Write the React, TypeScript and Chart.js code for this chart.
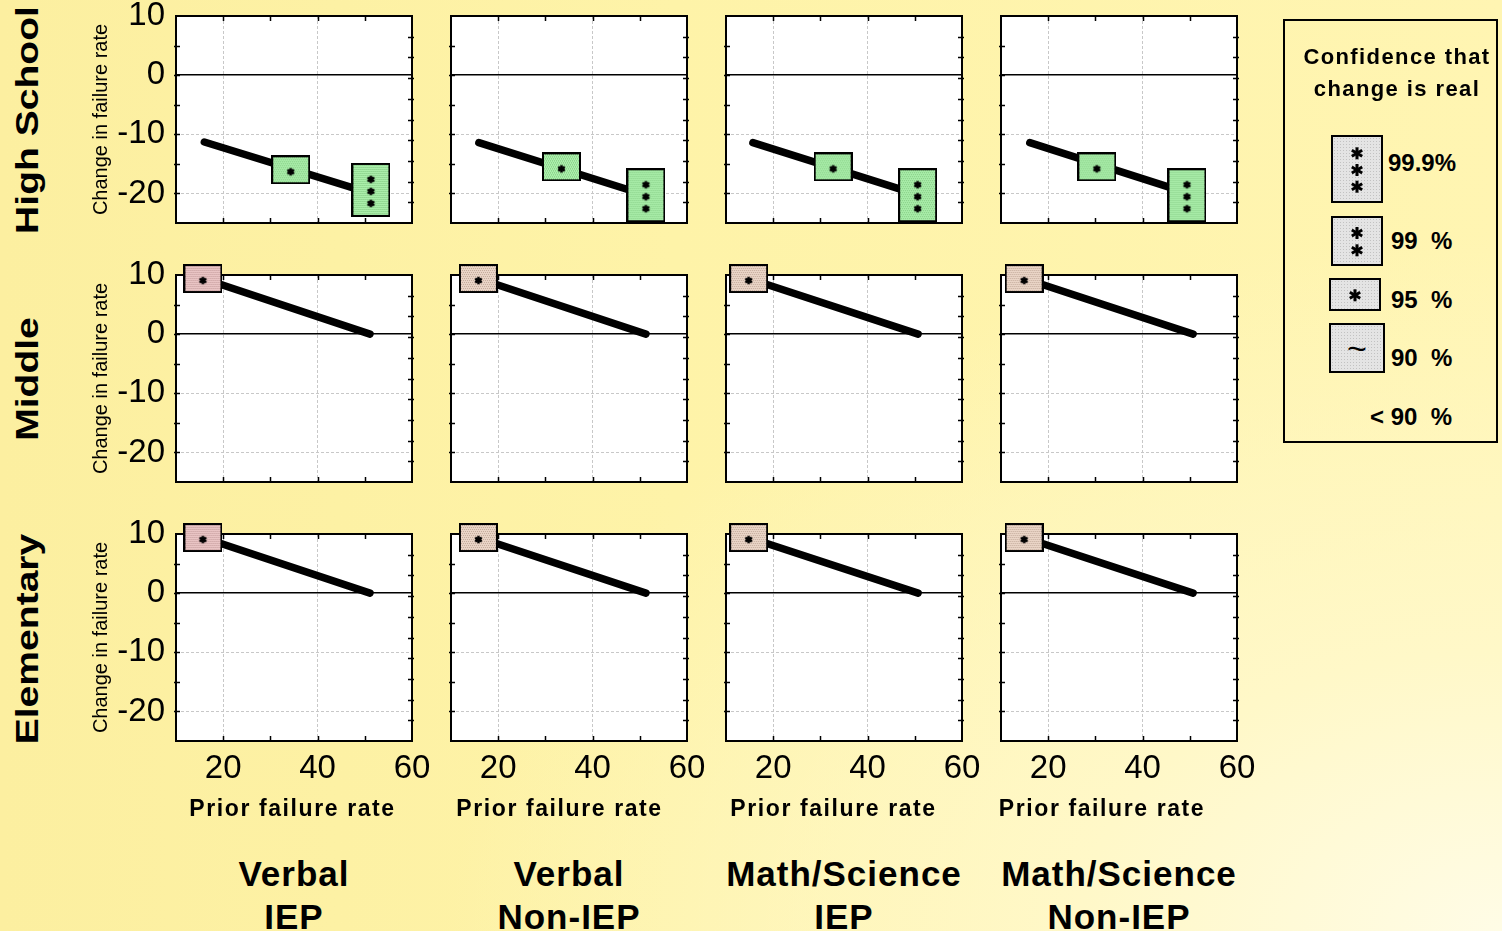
import React, { useEffect, useRef } from 'react';
import { Chart, registerables } from 'chart.js';

Chart.register(...registerables);

// ---------------- data ----------------
const ROW_LABELS = ['High School', 'Middle', 'Elementary'];
const COL_LABELS_TOP = ['Verbal', 'Verbal', 'Math/Science', 'Math/Science'];
const COL_LABELS_BOTTOM = ['IEP', 'Non-IEP', 'IEP', 'Non-IEP'];
const X_AXIS_TITLE = 'Prior failure rate';
const Y_AXIS_TITLE = 'Change in failure rate';
const LEGEND_TITLE = ['Confidence that', 'change is real'];
const LEGEND_LEVELS = ['99.9%', '99  %', '95  %', '90  %', '< 90  %'];

const X_MIN = 10;
const X_MAX = 60;
const Y_MIN = -25;
const Y_MAX = 10;
const X_TICKS = [20, 40, 60];
const Y_TICKS = [-20, -10, 0, 10];
const X_MINOR = [20, 30, 40, 50];
const Y_MINOR = [-20, -15, -10, -5, 0, 5];
const RIGHT_DIVISIONS = 10;

// High School: regression line + two significance markers
const HS_START_X = [16.0, 15.9, 15.7, 16.1];
const HS_START_Y = [-11.3, -11.4, -11.4, -11.4];
const HS_END_X = [51.3, 51.3, 50.6, 49.4];
const HS_END_Y = [-20.0, -20.3, -20.2, -19.9];
const HS_MID_X = [34.3, 33.4, 32.7, 30.3];
const HS_MID_Y = [-16.0, -15.5, -15.5, -15.5];
const HS_MID_LEVEL = ['95', '95', '95', '95'];
const HS_HI_X = [51.3, 51.3, 50.6, 49.4];
const HS_HI_Y = [-19.4, -20.3, -20.3, -20.3];
const HS_HI_LEVEL = ['99.9', '99.9', '99.9', '99.9'];
const HS_TONE = ['green', 'green', 'green', 'green'];

// Middle
const MS_START_X = [15.7, 15.8, 14.8, 14.9];
const MS_START_Y = [9.4, 9.4, 9.4, 9.4];
const MS_END_X = [51.1, 51.3, 50.7, 50.7];
const MS_END_Y = [0, 0, 0, 0];
const MS_LEVEL = ['95', '95', '95', '95'];
const MS_TONE = ['pink', 'beige', 'beige', 'beige'];

// Elementary
const EL_START_X = [15.7, 15.8, 14.8, 14.9];
const EL_START_Y = [9.4, 9.4, 9.4, 9.4];
const EL_END_X = [51.1, 51.3, 50.7, 50.7];
const EL_END_Y = [0, 0, 0, 0];
const EL_LEVEL = ['95', '95', '95', '95'];
const EL_TONE = ['pink', 'beige', 'beige', 'beige'];

// ---------------- layout / style ----------------
const FONT = "'Liberation Sans', Arial, Helvetica, sans-serif";
const AREA_LEFT = [176, 451, 726, 1001];
const AREA_TOP = [16, 275, 534];
const AREA_W = 236;
const AREA_H = 207;
const Y_AXIS_W = 96;
const PAD = 36;
const X_AXIS_H = 60;

const TONES: Record<string, [string, string]> = {
  green: ['#ACF0AC', '#7CC47C'],
  pink: ['#EBC6C6', '#C09898'],
  beige: ['#EBD6C8', '#C0A898'],
};

function drawAsterisk(g: CanvasRenderingContext2D, cx: number, cy: number, r: number, lw: number) {
  g.save();
  g.strokeStyle = '#000';
  g.lineWidth = lw;
  g.beginPath();
  for (const a of [90, 30, 150]) {
    const rad = (a * Math.PI) / 180;
    g.moveTo(cx - r * Math.cos(rad), cy - r * Math.sin(rad));
    g.lineTo(cx + r * Math.cos(rad), cy + r * Math.sin(rad));
  }
  g.stroke();
  g.restore();
}

const markerCache: Record<string, HTMLCanvasElement> = {};
function marker(tone: string, level: string): HTMLCanvasElement {
  const key = tone + level;
  if (markerCache[key]) return markerCache[key];
  const w = 39;
  const h = level === '99.9' ? 54 : 29;
  const c = document.createElement('canvas');
  c.width = w;
  c.height = h;
  const g = c.getContext('2d')!;
  const [fill, dot] = TONES[tone];
  g.fillStyle = fill;
  g.fillRect(0, 0, w, h);
  g.fillStyle = dot;
  for (let yy = 0; yy < h; yy += 2) {
    for (let xx = (yy / 2) % 2; xx < w; xx += 2) g.fillRect(xx, yy, 1, 1);
  }
  g.strokeStyle = '#000';
  g.lineWidth = 2;
  g.strokeRect(1, 1, w - 2, h - 2);
  const offs = level === '99.9' ? [-10.5, 1.5, 13.5] : level === '99' ? [-5, 7] : [2];
  for (const dy of offs) drawAsterisk(g, w / 2, h / 2 + dy, 3.8, 2.4);
  markerCache[key] = c;
  return c;
}

type Pt = { x: number; y: number };
type Mark = Pt & { tone: string; level: string };

function cellData(r: number, c: number): { line: Pt[]; marks: Mark[] } {
  if (r === 0) {
    return {
      line: [
        { x: HS_START_X[c], y: HS_START_Y[c] },
        { x: HS_END_X[c], y: HS_END_Y[c] },
      ],
      marks: [
        { x: HS_MID_X[c], y: HS_MID_Y[c], tone: HS_TONE[c], level: HS_MID_LEVEL[c] },
        { x: HS_HI_X[c], y: HS_HI_Y[c], tone: HS_TONE[c], level: HS_HI_LEVEL[c] },
      ],
    };
  }
  const sx = r === 1 ? MS_START_X : EL_START_X;
  const sy = r === 1 ? MS_START_Y : EL_START_Y;
  const ex = r === 1 ? MS_END_X : EL_END_X;
  const ey = r === 1 ? MS_END_Y : EL_END_Y;
  const lv = r === 1 ? MS_LEVEL : EL_LEVEL;
  const tn = r === 1 ? MS_TONE : EL_TONE;
  return {
    line: [
      { x: sx[c], y: sy[c] },
      { x: ex[c], y: ey[c] },
    ],
    marks: [{ x: sx[c], y: sy[c], tone: tn[c], level: lv[c] }],
  };
}

const framePlugin = {
  id: 'panelFrame',
  beforeDraw(chart: any) {
    const { ctx, chartArea: a } = chart;
    ctx.save();
    ctx.fillStyle = '#FFFFFF';
    ctx.fillRect(a.left, a.top, a.right - a.left, a.bottom - a.top);
    ctx.restore();
  },
  beforeDatasetsDraw(chart: any) {
    const { ctx, chartArea: a, scales } = chart;
    const xs = scales.x;
    const ys = scales.y;
    ctx.save();
    ctx.strokeStyle = '#000';
    ctx.lineWidth = 1.5;
    ctx.beginPath();
    for (const v of X_MINOR) {
      const px = Math.round(xs.getPixelForValue(v)) + 0.5;
      ctx.moveTo(px, a.bottom);
      ctx.lineTo(px, a.bottom - 5);
      ctx.moveTo(px, a.top);
      ctx.lineTo(px, a.top + 5);
    }
    for (const v of Y_MINOR) {
      const py = Math.round(ys.getPixelForValue(v)) + 0.5;
      ctx.moveTo(a.left - 2, py);
      ctx.lineTo(a.left + 4, py);
    }
    for (let i = 1; i < RIGHT_DIVISIONS; i++) {
      const py = Math.round(a.top + ((a.bottom - a.top) * i) / RIGHT_DIVISIONS) + 0.5;
      ctx.moveTo(a.right + 2, py);
      ctx.lineTo(a.right - 4, py);
    }
    ctx.stroke();
    ctx.lineWidth = 2;
    ctx.strokeRect(a.left, a.top, a.right - a.left, a.bottom - a.top);
    ctx.restore();
  },
};

function canvasBox(r: number, c: number) {
  const L = c === 0 ? Y_AXIS_W : PAD;
  const B = r === 2 ? X_AXIS_H + 10 : PAD;
  return {
    left: AREA_LEFT[c] - L,
    top: AREA_TOP[r] - PAD,
    width: L + AREA_W + PAD,
    height: PAD + AREA_H + B,
  };
}

function makeChart(canvas: HTMLCanvasElement, r: number, c: number) {
  const { line, marks } = cellData(r, c);
  const showY = c === 0;
  const showX = r === 2;
  const gridColor = '#C8C8C8';
  return new Chart(canvas, {
    type: 'scatter',
    data: {
      datasets: [
        {
          type: 'scatter',
          data: marks.map((m) => ({ x: m.x, y: m.y })),
          pointStyle: (ctx: any) => {
            const m = marks[ctx.dataIndex];
            return m ? marker(m.tone, m.level) : 'rect';
          },
          pointRadius: 10,
          clip: false,
          order: 0,
        } as any,
        {
          type: 'line',
          data: line,
          borderColor: '#000',
          borderWidth: 7.5,
          borderCapStyle: 'round',
          pointRadius: 0,
          showLine: true,
          fill: false,
          clip: false,
          order: 1,
        } as any,
      ],
    },
    options: {
      animation: false,
      responsive: false,
      maintainAspectRatio: false,
      events: [],
      devicePixelRatio: 1,
      layout: {
        padding: {
          left: c === 0 ? 0 : PAD,
          right: PAD,
          top: PAD,
          bottom: r === 2 ? 10 : PAD,
        },
      },
      plugins: {
        legend: { display: false },
        tooltip: { enabled: false },
        title: { display: false },
      },
      scales: {
        x: {
          type: 'linear',
          min: X_MIN,
          max: X_MAX,
          afterBuildTicks: (s: any) => {
            s.ticks = X_TICKS.map((v) => ({ value: v }));
          },
          afterFit: (s: any) => {
            s.height = showX ? X_AXIS_H : 0;
          },
          ticks: {
            display: showX,
            color: '#000',
            font: { family: FONT, size: 33 },
            padding: 8,
            maxRotation: 0,
            autoSkip: false,
          },
          grid: { drawTicks: false, color: gridColor, lineWidth: 1 },
          border: { display: false, dash: [3, 2] },
        },
        y: {
          type: 'linear',
          min: Y_MIN,
          max: Y_MAX,
          afterBuildTicks: (s: any) => {
            s.ticks = Y_TICKS.map((v) => ({ value: v }));
          },
          afterFit: (s: any) => {
            s.width = showY ? Y_AXIS_W : 0;
          },
          ticks: {
            display: showY,
            color: '#000',
            font: { family: FONT, size: 33 },
            padding: 11,
            autoSkip: false,
          },
          title: {
            display: showY,
            text: Y_AXIS_TITLE,
            color: '#000',
            font: { family: FONT, size: 20 },
            padding: { top: 9, bottom: 0 },
          },
          grid: {
            drawTicks: false,
            color: (ctx: any) => (ctx.tick && ctx.tick.value === 0 ? '#000' : gridColor),
            lineWidth: (ctx: any) => (ctx.tick && ctx.tick.value === 0 ? 1.5 : 1),
          },
          border: {
            display: false,
            dash: (ctx: any) => (ctx.tick && ctx.tick.value === 0 ? [] : [3, 2]),
          },
        },
      },
    } as any,
    plugins: [framePlugin],
  });
}

const CELLS: { r: number; c: number }[] = [];
for (let r = 0; r < ROW_LABELS.length; r++) {
  for (let c = 0; c < COL_LABELS_TOP.length; c++) CELLS.push({ r, c });
}

const ROW_LABEL_X = 28;
const ROW_LABEL_Y = [120, 379, 639];
const XTITLE_CENTER = [292.5, 559.5, 833.5, 1102];

function Asterisk({ cx, cy, r, w }: { cx: number; cy: number; r: number; w: number }) {
  return (
    <g stroke="#000" strokeWidth={w}>
      {[90, 30, 150].map((a) => {
        const rad = (a * Math.PI) / 180;
        return (
          <line
            key={a}
            x1={cx - r * Math.cos(rad)}
            y1={cy - r * Math.sin(rad)}
            x2={cx + r * Math.cos(rad)}
            y2={cy + r * Math.sin(rad)}
          />
        );
      })}
    </g>
  );
}

function Swatch({
  left,
  top,
  w,
  h,
  stars,
  tilde,
}: {
  left: number;
  top: number;
  w: number;
  h: number;
  stars: number[];
  tilde?: boolean;
}) {
  return (
    <div
      style={{
        position: 'absolute',
        left,
        top,
        width: w,
        height: h,
        boxSizing: 'border-box',
        border: '2px solid #000',
        backgroundColor: '#E4E4E4',
        backgroundImage: 'radial-gradient(circle, #C2C2C2 0.5px, transparent 0.8px)',
        backgroundSize: '3px 3px',
      }}
    >
      <svg width={w} height={h} style={{ position: 'absolute', left: -2, top: -2 }}>
        {stars.map((sy, i) => (
          <Asterisk key={i} cx={w / 2} cy={sy} r={6} w={3} />
        ))}
      </svg>
      {tilde && (
        <div
          style={{
            position: 'absolute',
            inset: 0,
            display: 'flex',
            alignItems: 'center',
            justifyContent: 'center',
            fontFamily: FONT,
            fontSize: 34,
            color: '#000',
          }}
        >
          ~
        </div>
      )}
    </div>
  );
}

export default function App() {
  const refs = useRef<(HTMLCanvasElement | null)[]>([]);

  useEffect(() => {
    const charts = CELLS.map(({ r, c }, i) => makeChart(refs.current[i]!, r, c));
    return () => charts.forEach((ch) => ch.destroy());
  }, []);

  return (
    <div
      style={{
        position: 'fixed',
        left: 0,
        top: 0,
        width: 1502,
        height: 931,
        overflow: 'hidden',
        fontFamily: FONT,
        color: '#000',
        background:
          'radial-gradient(ellipse 70% 75% at 100% 100%, #FFFCE6 0%, #FFF8C8 40%, rgba(255,246,180,0) 100%), linear-gradient(90deg, #FCEFA0 0%, #FEF3A8 45%, #FFF5B2 100%)',
      }}
    >
      {ROW_LABELS.map((t, r) => (
        <div
          key={t}
          style={{
            position: 'absolute',
            left: ROW_LABEL_X,
            top: ROW_LABEL_Y[r],
            transform: 'translate(-50%, -50%) rotate(-90deg) scale(1.26, 1)',
            whiteSpace: 'nowrap',
            fontWeight: 'bold',
            fontSize: 31,
            lineHeight: '36px',
          }}
        >
          {t}
        </div>
      ))}

      {CELLS.map(({ r, c }, i) => {
        const b = canvasBox(r, c);
        return (
          <canvas
            key={i}
            ref={(el) => {
              refs.current[i] = el;
            }}
            width={b.width}
            height={b.height}
            style={{ position: 'absolute', left: b.left, top: b.top, width: b.width, height: b.height }}
          />
        );
      })}

      {XTITLE_CENTER.map((cx, c) => (
        <div
          key={'xt' + c}
          style={{
            position: 'absolute',
            left: cx - 150,
            width: 300,
            top: 795,
            textAlign: 'center',
            fontWeight: 'bold',
            fontSize: 23,
            lineHeight: '27px',
            letterSpacing: '1.6px',
            whiteSpace: 'nowrap',
          }}
        >
          {X_AXIS_TITLE}
        </div>
      ))}

      {COL_LABELS_TOP.map((t, c) => (
        <div
          key={'cl' + c}
          style={{
            position: 'absolute',
            left: AREA_LEFT[c] + AREA_W / 2 - 150,
            width: 300,
            top: 852,
            textAlign: 'center',
            fontWeight: 'bold',
            fontSize: 35,
            lineHeight: '43px',
            letterSpacing: '1px',
            whiteSpace: 'nowrap',
          }}
        >
          <div>{t}</div>
          <div>{COL_LABELS_BOTTOM[c]}</div>
        </div>
      ))}

      {/* legend */}
      <div
        style={{
          position: 'absolute',
          left: 1283,
          top: 19,
          width: 215,
          height: 424,
          boxSizing: 'border-box',
          border: '2px solid #000',
        }}
      />
      <div
        style={{
          position: 'absolute',
          left: 1397 - 150,
          width: 300,
          top: 41,
          textAlign: 'center',
          fontWeight: 'bold',
          fontSize: 22,
          lineHeight: '32px',
          letterSpacing: '1.4px',
          whiteSpace: 'nowrap',
        }}
      >
        <div>{LEGEND_TITLE[0]}</div>
        <div>{LEGEND_TITLE[1]}</div>
      </div>
      <Swatch left={1331} top={135} w={52} h={68} stars={[18.3, 35, 51.7]} />
      <Swatch left={1331} top={216} w={52} h={50} stars={[17, 34.3]} />
      <Swatch left={1329} top={278} w={52} h={33} stars={[17.3]} />
      <Swatch left={1329} top={323} w={56} h={50} stars={[]} tilde />
      {[
        { x: 1388, y: 151 },
        { x: 1391, y: 229 },
        { x: 1391, y: 288 },
        { x: 1391, y: 346 },
        { x: 1370, y: 405 },
      ].map((p, i) => (
        <div
          key={'lv' + i}
          style={{
            position: 'absolute',
            left: p.x,
            top: p.y,
            fontWeight: 'bold',
            fontSize: 24,
            lineHeight: '24px',
            whiteSpace: 'pre',
          }}
        >
          {LEGEND_LEVELS[i]}
        </div>
      ))}
    </div>
  );
}
